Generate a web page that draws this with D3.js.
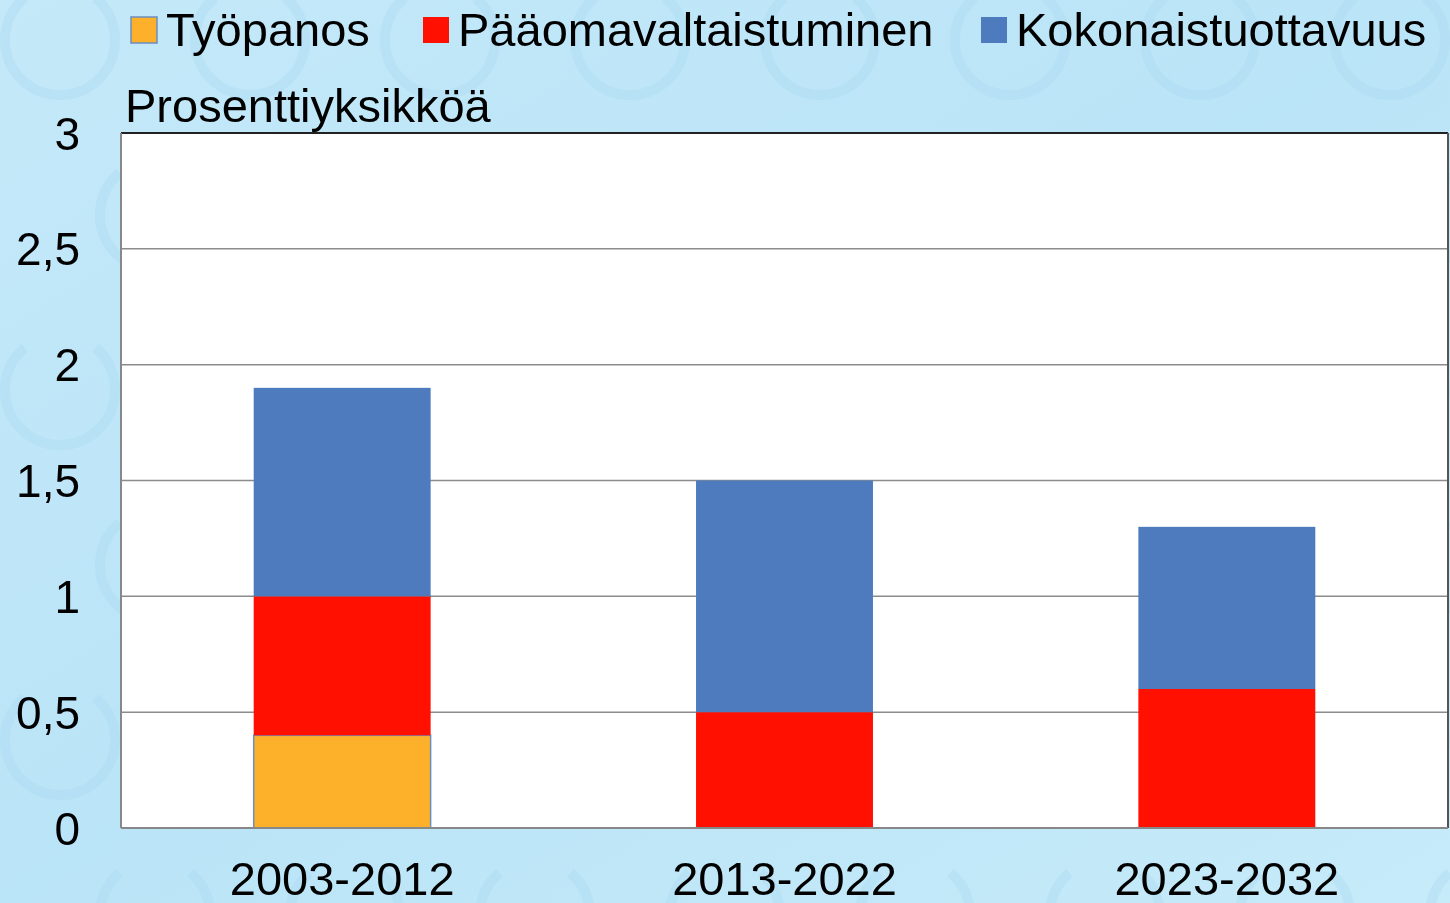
<!DOCTYPE html>
<html>
<head>
<meta charset="utf-8">
<script src="https://cdn.jsdelivr.net/npm/d3@7/dist/d3.min.js"></script>
<style>
  body { margin: 0; overflow: hidden; }
  text { font-family: "Liberation Sans", Arial, sans-serif; fill: #000; }
</style>
</head>
<body>
<div id="chart"></div>
<script>
// data
var periods = ["2003-2012", "2013-2022", "2023-2032"];
var seriesNames = ["Työpanos", "Pääomavaltaistuminen", "Kokonaistuottavuus"];
var tyopanos = [0.4, 0, 0];
var paaoma = [0.6, 0.5, 0.6];
var koko = [0.9, 1.0, 0.7];
var yTicks = [0, 0.5, 1, 1.5, 2, 2.5, 3];
var colors = ["#fdb12a", "#ff1000", "#4e7bbd"];

var width = 1450, height = 903;
var plot = {left: 121, right: 1448, top: 133, bottom: 828};

var svg = d3.select("#chart").append("svg")
  .attr("width", width)
  .attr("height", height);

// background
var defs = svg.append("defs");
var grad = defs.append("linearGradient").attr("id", "bg")
  .attr("x1", "0").attr("y1", "0").attr("x2", "1").attr("y2", "1");
grad.append("stop").attr("offset", "0").attr("stop-color", "#c4e9f9");
grad.append("stop").attr("offset", "0.5").attr("stop-color", "#bae4f7");
grad.append("stop").attr("offset", "1").attr("stop-color", "#c6ebf9");
svg.append("rect").attr("width", width).attr("height", height).attr("fill", "url(#bg)");

// faint euro watermark
var wm = svg.append("g").attr("fill", "none").attr("stroke", "#a9d8ef").attr("stroke-width", 10).attr("opacity", 0.35);
for (var r = 0; r < 6; r++) {
  for (var c = 0; c < 9; c++) {
    var cx = 60 + c * 190 + (r % 2) * 95, cy = 40 + r * 175;
    wm.append("path")
      .attr("d", d3.arc()({innerRadius: 55, outerRadius: 55, startAngle: 0.7, endAngle: 2 * Math.PI - 0.7}))
      .attr("transform", "translate(" + cx + "," + cy + ")");
  }
}

// plot area
svg.append("rect")
  .attr("x", plot.left).attr("y", plot.top)
  .attr("width", plot.right - plot.left).attr("height", plot.bottom - plot.top)
  .attr("fill", "#fff");

var x = d3.scaleBand().domain(periods).range([plot.left, plot.right]).paddingInner(0.6).paddingOuter(0.3);
var y = d3.scaleLinear().domain([0, 3]).range([plot.bottom, plot.top]);

// gridlines
svg.append("g").selectAll("line").data(yTicks.slice(1, -1)).enter().append("line")
  .attr("x1", plot.left).attr("x2", plot.right)
  .attr("y1", function(d) { return y(d); }).attr("y2", function(d) { return y(d); })
  .attr("stroke", "#8c8c8c").attr("stroke-width", 1.5);

// stacked bars
var rows = periods.map(function(p, i) {
  return {period: p, s0: tyopanos[i], s1: paaoma[i], s2: koko[i]};
});
var stacked = d3.stack().keys(["s0", "s1", "s2"])(rows);

svg.append("g").selectAll("g").data(stacked).enter().append("g")
  .attr("fill", function(d, i) { return colors[i]; })
  .each(function(layer, li) {
    d3.select(this).selectAll("rect").data(layer.filter(function(d) { return d[1] > d[0]; })).enter().append("rect")
      .attr("x", function(d) { return x(d.data.period); })
      .attr("width", x.bandwidth())
      .attr("y", function(d) { return y(d[1]); })
      .attr("height", function(d) { return y(d[0]) - y(d[1]); })
      .attr("stroke", li === 0 ? "#6a8fc0" : "none")
      .attr("stroke-width", li === 0 ? 1.5 : 0);
  });

// frame
svg.append("line").attr("x1", plot.left).attr("x2", plot.right).attr("y1", plot.top).attr("y2", plot.top)
  .attr("stroke", "#222").attr("stroke-width", 2);
svg.append("line").attr("x1", plot.right).attr("x2", plot.right).attr("y1", plot.top).attr("y2", plot.bottom)
  .attr("stroke", "#555").attr("stroke-width", 2);
svg.append("line").attr("x1", plot.left).attr("x2", plot.left).attr("y1", plot.top).attr("y2", plot.bottom)
  .attr("stroke", "#888").attr("stroke-width", 2);
svg.append("line").attr("x1", plot.left).attr("x2", plot.right).attr("y1", plot.bottom).attr("y2", plot.bottom)
  .attr("stroke", "#888").attr("stroke-width", 2);

// y axis
var yAxis = svg.append("g")
  .attr("transform", "translate(" + plot.left + ",0)")
  .call(d3.axisLeft(y).tickValues(yTicks).tickSize(0).tickPadding(41)
    .tickFormat(function(d) { return String(d).replace(".", ","); }));
yAxis.select(".domain").remove();
yAxis.selectAll("text").attr("font-size", 46).attr("dy", "0.35em")
  .style("font-family", "Liberation Sans, Arial, sans-serif").attr("fill", "#000");

// x axis
var xAxis = svg.append("g")
  .attr("transform", "translate(0," + plot.bottom + ")")
  .call(d3.axisBottom(x).tickSize(0).tickPadding(34));
xAxis.select(".domain").remove();
xAxis.selectAll("text").attr("font-size", 47).attr("dy", "0.71em")
  .style("font-family", "Liberation Sans, Arial, sans-serif").attr("fill", "#000");

// unit label
svg.append("text").attr("x", 125).attr("y", 122).attr("font-size", 47).text("Prosenttiyksikköä");

// legend
var legendX = [131, 423, 981];
var legend = svg.append("g").selectAll("g").data(seriesNames).enter().append("g")
  .attr("transform", function(d, i) { return "translate(" + legendX[i] + ",17)"; });
legend.append("rect").attr("width", 26).attr("height", 26)
  .attr("fill", function(d, i) { return colors[i]; })
  .attr("stroke", function(d, i) { return i === 0 ? "#6a8fc0" : "none"; })
  .attr("stroke-width", 1.5);
legend.append("text").attr("x", 35).attr("y", 29).attr("font-size", 47).text(function(d) { return d; });
</script>
</body>
</html>
